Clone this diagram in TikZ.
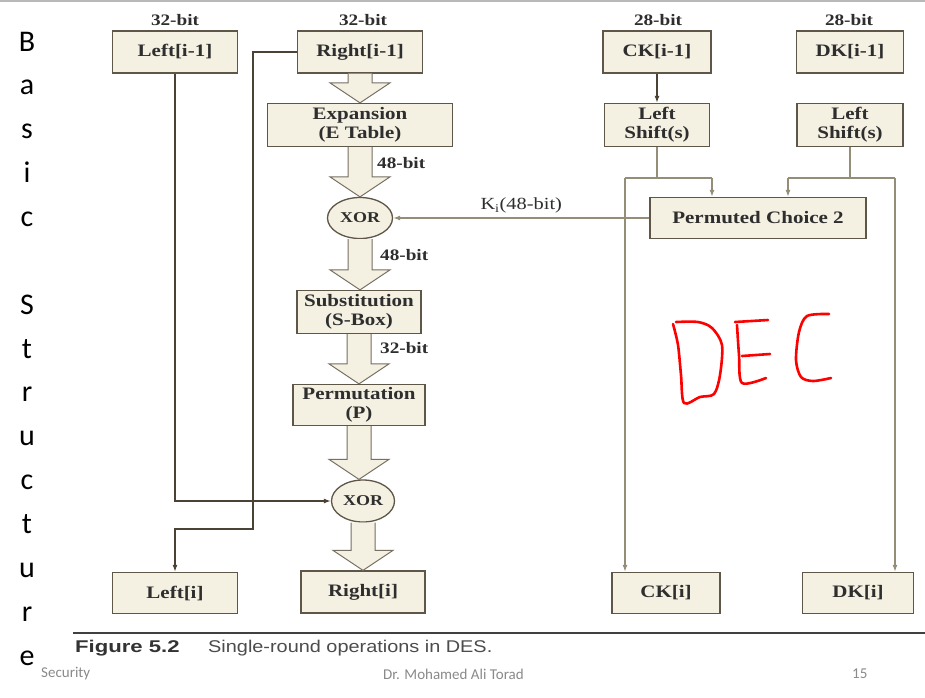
\documentclass[tikz,border=0pt]{standalone}
\usepackage{fontspec}
\usepackage{tikz}
\usetikzlibrary{calc, shapes.geometric, arrows.meta}
\newfontfamily\diagfont[FakeStretch=1.2]{Liberation Serif}
\newfontfamily\capfont[FakeStretch=1.17]{Liberation Sans}
\newfontfamily\capboldfont[FakeStretch=1.3]{Liberation Sans}
\newfontfamily\slidefont{Carlito}
\definecolor{boxfill}{HTML}{F4F0E2}
\definecolor{boxline}{HTML}{5E5646}
\definecolor{darkwire}{HTML}{4A4335}
\definecolor{lightwire}{HTML}{948D78}
\definecolor{labeltext}{HTML}{2E2E2E}
\definecolor{footgray}{HTML}{8A8A8A}
\tikzset{
  >={Latex[length=7pt,width=5pt]},
  blk/.style={draw=boxline, fill=boxfill, line width=1.3pt, inner sep=2pt, align=center,
    text=labeltext, font=\diagfont\bfseries\fontsize{17.5}{19}\selectfont},
  xorblk/.style={blk, ellipse, minimum width=65pt, minimum height=41pt, inner sep=0pt,
    font=\diagfont\bfseries\fontsize{15}{16}\selectfont},
  bitlbl/.style={inner sep=0pt, text=labeltext, font=\diagfont\bfseries\fontsize{16}{17}\selectfont},
  fatarrow/.style={fill=boxfill, draw=boxline!85, line width=1pt, line join=miter},
  sidechar/.style={anchor=base, inner sep=0pt, font=\slidefont\fontsize{30}{30}\selectfont},
  footer/.style={anchor=west, inner sep=0pt, text=footgray, font=\slidefont\fontsize{15}{15}\selectfont}
}
\newcommand{\fatarrow}[2]{%
  \path[fatarrow] let \p1=(#1.south), \p2=(#2.north) in
    (\x1-12pt,\y1) -- (\x1-12pt,\y2+20pt) -- (\x1-30pt,\y2+20pt) -- (\x1,\y2)
    -- (\x1+30pt,\y2+20pt) -- (\x1+12pt,\y2+20pt) -- (\x1+12pt,\y1);}

\begin{document}
\begin{tikzpicture}[x=1pt, y=-1pt]
\fill[white] (0,0) rectangle (925,697);
\useasboundingbox (0,0) rectangle (925,697);
\draw[gray!55, line width=1.5pt] (0,0.8) -- (925,0.8);
% side title
\foreach \ch [count=\k] in {B,a,s,i,c,{},S,t,r,u,c,t,u,r,e}
  \node[sidechar] (side\k) at (27, {51+43.86*(\k-1)}) {\ch};
% data half
\node[blk, minimum width=125pt, minimum height=42pt] (lefti1) at (175,52) {Left[i-1]};
\node[blk, minimum width=125pt, minimum height=42pt] (righti1) at (360,52) {Right[i-1]};
\node[bitlbl] (bitL) at (175,20) {32-bit};
\node[bitlbl] (bitR) at (363,20) {32-bit};
\node[blk, minimum width=185pt, minimum height=43pt] (expand) at (360,125) {Expansion\\(E Table)};
\node[xorblk] (xorA) at (360,218) {XOR};
\node[blk, minimum width=124pt, minimum height=43pt] (sbox) at (359,312) {Substitution\\(S-Box)};
\node[blk, minimum width=132pt, minimum height=41pt] (perm) at (359,405) {Permutation\\(P)};
\node[xorblk, minimum width=63pt, minimum height=42pt] (xorB) at (363,501) {XOR};
\node[blk, minimum width=125pt, minimum height=41pt] (lefti) at (175,593) {Left[i]};
\node[blk, minimum width=124pt, minimum height=42pt] (righti) at (363,592) {Right[i]};
\node[bitlbl, anchor=west] (bitE) at (377,163) {48-bit};
\node[bitlbl, anchor=west] (bitX) at (380,255) {48-bit};
\node[bitlbl, anchor=west] (bitS) at (380,348) {32-bit};
\fatarrow{righti1}{expand}
\fatarrow{expand}{xorA}
\fatarrow{xorA}{sbox}
\fatarrow{sbox}{perm}
\fatarrow{perm}{xorB}
\fatarrow{xorB}{righti}
\coordinate (rjog) at (253,529);
\draw[darkwire, line width=1.4pt, ->] (lefti1.south) |- (xorB.west);
\draw[darkwire, line width=1.4pt, ->] (righti1.west) -| (rjog) -| (lefti.north);
% key half
\node[blk, minimum width=108pt, minimum height=42pt] (cki1) at (657,52) {CK[i-1]};
\node[blk, minimum width=107pt, minimum height=42pt] (dki1) at (850,52) {DK[i-1]};
\node[bitlbl] (bitC) at (658,20) {28-bit};
\node[bitlbl] (bitD) at (849,20) {28-bit};
\node[blk, minimum width=105pt, minimum height=43pt] (shiftC) at (657,125) {Left\\Shift(s)};
\node[blk, minimum width=106pt, minimum height=43pt] (shiftD) at (850,125) {Left\\Shift(s)};
\node[blk, minimum width=216pt, minimum height=41pt] (pc2) at (758,218) {Permuted Choice 2};
\node[blk, minimum width=108pt, minimum height=41pt] (cki) at (666,593) {CK[i]};
\node[blk, minimum width=111pt, minimum height=41pt] (dki) at (858,593) {DK[i]};
\coordinate (cl) at (625,178);
\coordinate (cr) at (712,178);
\coordinate (dl) at (788,178);
\coordinate (dr) at (895,178);
\draw[darkwire, line width=1.4pt, ->] (cki1) -- (shiftC);
\draw[lightwire, line width=1.4pt] (shiftC.south) -- (shiftC.south |- cl);
\draw[lightwire, line width=1.4pt] (cl) -- (cr);
\draw[lightwire, line width=1.4pt, ->] (cr) -- (cr |- pc2.north);
\draw[lightwire, line width=1.4pt, ->] (cl) -- (cl |- cki.north);
\draw[lightwire, line width=1.4pt] (shiftD.south) -- (shiftD.south |- dl);
\draw[lightwire, line width=1.4pt] (dl) -- (dr);
\draw[lightwire, line width=1.4pt, ->] (dl) -- (dl |- pc2.north);
\draw[lightwire, line width=1.4pt, ->] (dr) -- (dr |- dki.north);
\draw[lightwire, line width=1.4pt, ->] (pc2.west) -- (xorA.east)
  node[midway, above=4pt, bitlbl, font=\diagfont\fontsize{17}{18}\selectfont] (kin) {K\textsubscript{i}(48-bit)};
% handwritten mark
\draw[red, line width=2.6pt, line cap=round, line join=round] plot[smooth] coordinates
  {(673,324) (678,345) (681,375) (684,403) (700,397) (714,394) (720,375) (722,345) (712,328) (698,322) (676,322)};
\draw[red, line width=2.6pt, line cap=round, line join=round] plot[smooth] coordinates
  {(737,325) (739,355) (742,383) (766,378)};
\draw[red, line width=2.6pt, line cap=round] (735,322) -- (768,320);
\draw[red, line width=2.6pt, line cap=round] (742,356) -- (770,354);
\draw[red, line width=2.6pt, line cap=round, line join=round] plot[smooth] coordinates
  {(829,314) (807,316) (799,332) (796,360) (801,377) (813,381) (831,378)};
% caption and footer
\draw[black!75, line width=1.3pt] (73,633) -- (925,633);
\node[anchor=west, inner sep=0pt, text=black!80, font=\capboldfont\bfseries\fontsize{17}{18}\selectfont] (figno) at (75,648) {Figure 5.2};
\node[anchor=west, inner sep=0pt, text=black!70, font=\capfont\fontsize{17}{18}\selectfont] (figcap) at (208,648) {Single-round operations in DES.};
\node[footer] (foot1) at (41,674) {Security};
\node[footer] (foot2) at (383,674) {Dr. Mohamed Ali Torad};
\node[footer] (foot3) at (852,674) {15};
\end{tikzpicture}
\end{document}
